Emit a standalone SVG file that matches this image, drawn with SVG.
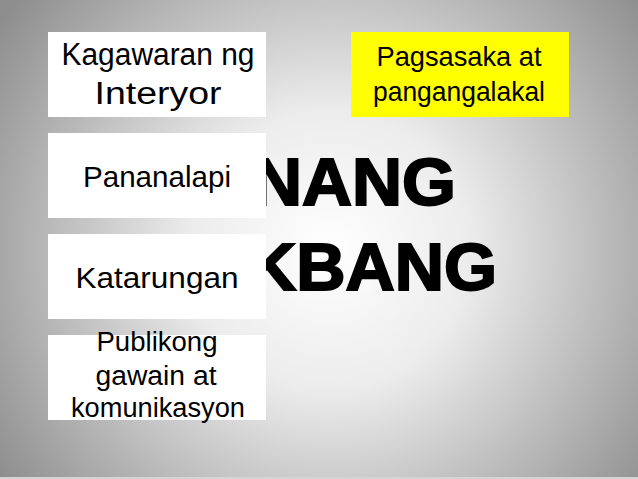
<svg xmlns="http://www.w3.org/2000/svg" width="638" height="479" viewBox="0 0 638 479">
<defs>
<radialGradient id="bg" cx="330" cy="250" r="400" gradientUnits="userSpaceOnUse">
<stop offset="0" stop-color="#ffffff"/>
<stop offset="0.35" stop-color="#ececec"/>
<stop offset="1" stop-color="#8e8e8e"/>
</radialGradient>
<style>
.box{fill:#ffffff}
.yel{fill:#ffff00}
.lbl{font-family:"Comic Sans MS","Liberation Sans",Arial,sans-serif;fill:#000;text-anchor:middle}
.big{font-family:"Liberation Sans",Arial,sans-serif;font-weight:bold;font-size:66px;fill:#000;stroke:#000;stroke-width:2;text-anchor:end}
</style>
</defs>
<rect x="0" y="0" width="638" height="479" fill="url(#bg)"/>
<rect x="0" y="477" width="638" height="2" fill="#d4d4d4"/>
<g id="title">
<text class="big" x="456" y="205" textLength="204" lengthAdjust="spacingAndGlyphs">NANG</text>
<text class="big" x="497" y="290" textLength="250" lengthAdjust="spacingAndGlyphs">KBANG</text>
</g>
<g id="node-interyor">
<rect class="box" x="48" y="32" width="218" height="85"/>
<text class="lbl" x="158" y="65" font-size="31" textLength="193" lengthAdjust="spacingAndGlyphs">Kagawaran ng</text>
<text class="lbl" x="158" y="104" font-size="31" textLength="127" lengthAdjust="spacingAndGlyphs">Interyor</text>
</g>
<g id="node-pagsasaka">
<rect class="yel" x="351" y="32" width="218" height="85"/>
<text class="lbl" x="459" y="66" font-size="28" textLength="165" lengthAdjust="spacingAndGlyphs">Pagsasaka at</text>
<text class="lbl" x="459" y="101" font-size="28" textLength="172" lengthAdjust="spacingAndGlyphs">pangangalakal</text>
</g>
<g id="node-pananalapi">
<rect class="box" x="48" y="133" width="218" height="85"/>
<text class="lbl" x="157" y="187" font-size="29" textLength="148" lengthAdjust="spacingAndGlyphs">Pananalapi</text>
</g>
<g id="node-katarungan">
<rect class="box" x="48" y="234" width="218" height="85"/>
<text class="lbl" x="157" y="288" font-size="29" textLength="163" lengthAdjust="spacingAndGlyphs">Katarungan</text>
</g>
<g id="node-publiko">
<rect class="box" x="48" y="335" width="218" height="85"/>
<text class="lbl" x="157" y="351" font-size="27" textLength="121" lengthAdjust="spacingAndGlyphs">Publikong</text>
<text class="lbl" x="156" y="385" font-size="27" textLength="121" lengthAdjust="spacingAndGlyphs">gawain at</text>
<text class="lbl" x="158" y="417" font-size="27" textLength="174" lengthAdjust="spacingAndGlyphs">komunikasyon</text>
</g>
<g id="connectors"/>
</svg>
